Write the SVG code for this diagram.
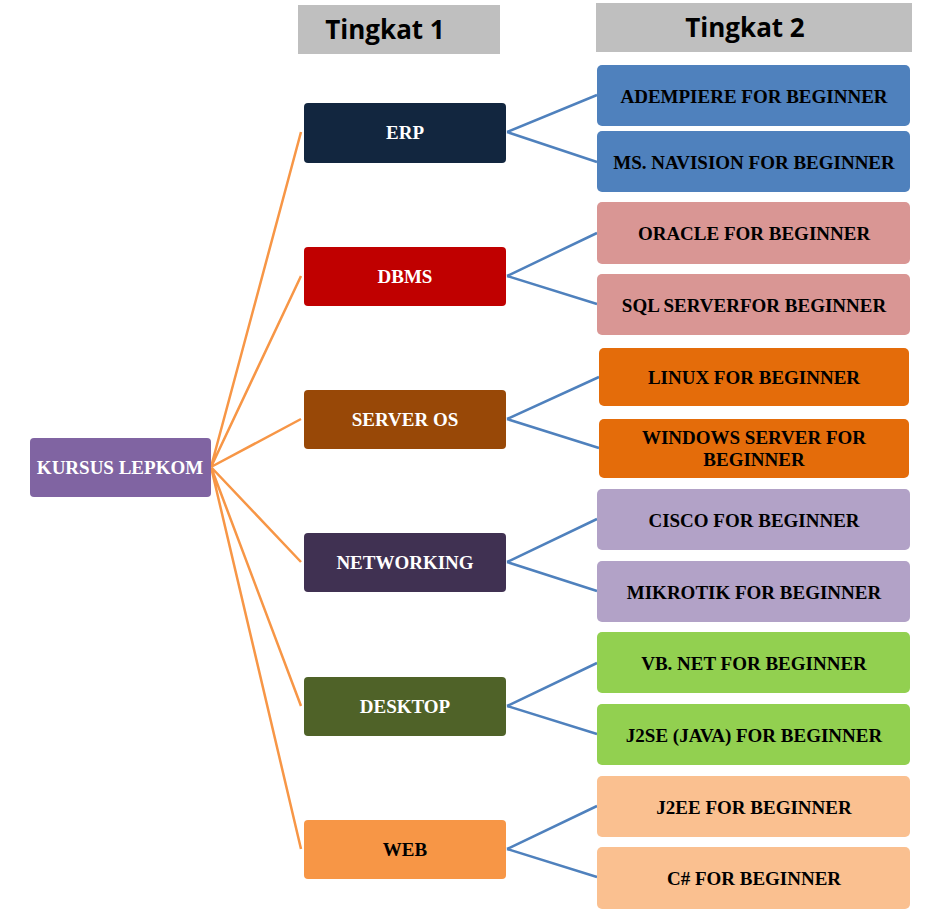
<svg xmlns="http://www.w3.org/2000/svg" width="928" height="922" viewBox="0 0 928 922">
<style>
.hdr{fill:#BFBFBF}
.ht{font-family:"Open Sans","Liberation Sans",sans-serif;font-weight:bold;font-size:26px;fill:#000;text-anchor:middle}
.t{font-family:"Liberation Serif",serif;font-weight:bold;font-size:19px;text-anchor:middle}
.w{fill:#fff}
.k{fill:#000}
.o{stroke:#F79646;stroke-width:2.5;fill:none}
.b{stroke:#4F81BD;stroke-width:2.5;fill:none}
</style>
<rect width="928" height="922" fill="#fff"/>
<g id="header1"><rect class="hdr" x="298" y="5" width="202" height="49"/><text class="ht" x="385" y="39">Tingkat 1</text></g>
<g id="header2"><rect class="hdr" x="596" y="3" width="316" height="49"/><text class="ht" x="745" y="37">Tingkat 2</text></g>
<g id="connectors">
<path class="o" d="M211 467L301 132M211 467L301 276M211 467L301 419M211 467L301 562M211 467L301 706M211 467L301 849"/>
<path class="b" d="M507 132L597 95M507 132L597 162M507 276L597 233M507 276L597 304M507 419L599 377M507 419L599 448M507 562L597 519M507 562L597 591M507 706L597 663M507 706L597 734M507 849L597 806M507 849L597 877"/>
</g>
<g id="root"><rect x="30" y="438" width="181" height="59" rx="4" fill="#8064A2"/><text class="t w" x="120" y="474">KURSUS LEPKOM</text></g>
<g id="erp"><rect x="304" y="103" width="202" height="60" rx="4" fill="#12263F"/><text class="t w" x="405" y="139">ERP</text></g>
<g id="dbms"><rect x="304" y="247" width="202" height="59" rx="4" fill="#C00000"/><text class="t w" x="405" y="283">DBMS</text></g>
<g id="serveros"><rect x="304" y="390" width="202" height="59" rx="4" fill="#984807"/><text class="t w" x="405" y="426">SERVER OS</text></g>
<g id="networking"><rect x="304" y="533" width="202" height="59" rx="4" fill="#403152"/><text class="t w" x="405" y="569">NETWORKING</text></g>
<g id="desktop"><rect x="304" y="677" width="202" height="59" rx="4" fill="#4F6228"/><text class="t w" x="405" y="713">DESKTOP</text></g>
<g id="web"><rect x="304" y="820" width="202" height="59" rx="4" fill="#F79646"/><text class="t k" x="405" y="856">WEB</text></g>
<g id="adempiere"><rect x="597" y="65" width="313" height="61" rx="5" fill="#4F81BD"/><text class="t k" x="754" y="103">ADEMPIERE FOR BEGINNER</text></g>
<g id="navision"><rect x="597" y="131" width="313" height="61" rx="5" fill="#4F81BD"/><text class="t k" x="754" y="169">MS. NAVISION FOR BEGINNER</text></g>
<g id="oracle"><rect x="597" y="202" width="313" height="62" rx="5" fill="#D99694"/><text class="t k" x="754" y="240">ORACLE FOR BEGINNER</text></g>
<g id="sqlserver"><rect x="597" y="274" width="313" height="61" rx="5" fill="#D99694"/><text class="t k" x="754" y="312">SQL SERVERFOR BEGINNER</text></g>
<g id="linux"><rect x="599" y="348" width="310" height="58" rx="5" fill="#E46C0A"/><text class="t k" x="754" y="384">LINUX FOR BEGINNER</text></g>
<g id="windows"><rect x="599" y="419" width="310" height="59" rx="5" fill="#E46C0A"/><text class="t k" x="754" y="444">WINDOWS SERVER FOR</text><text class="t k" x="754" y="466">BEGINNER</text></g>
<g id="cisco"><rect x="597" y="489" width="313" height="61" rx="5" fill="#B2A2C7"/><text class="t k" x="754" y="527">CISCO FOR BEGINNER</text></g>
<g id="mikrotik"><rect x="597" y="561" width="313" height="61" rx="5" fill="#B2A2C7"/><text class="t k" x="754" y="599">MIKROTIK FOR BEGINNER</text></g>
<g id="vbnet"><rect x="597" y="632" width="313" height="61" rx="5" fill="#92D050"/><text class="t k" x="754" y="670">VB. NET FOR BEGINNER</text></g>
<g id="j2se"><rect x="597" y="704" width="313" height="61" rx="5" fill="#92D050"/><text class="t k" x="754" y="742">J2SE (JAVA) FOR BEGINNER</text></g>
<g id="j2ee"><rect x="597" y="776" width="313" height="61" rx="5" fill="#FAC090"/><text class="t k" x="754" y="814">J2EE FOR BEGINNER</text></g>
<g id="csharp"><rect x="597" y="847" width="313" height="62" rx="5" fill="#FAC090"/><text class="t k" x="754" y="885">C# FOR BEGINNER</text></g>
</svg>
